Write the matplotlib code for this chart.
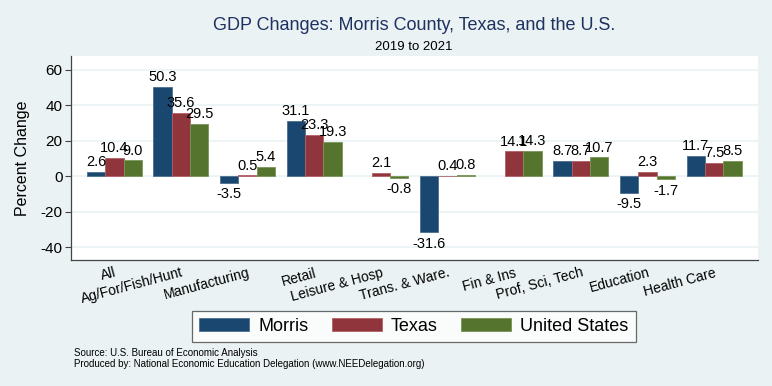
import numpy as np
import matplotlib
matplotlib.use("Agg")
from matplotlib import pyplot as plt

# Data (percent change in GDP, 2019 to 2021)
industries = ["All", "Ag/For/Fish/Hunt", "Manufacturing", "Retail", "Leisure & Hosp",
              "Trans. & Ware.", "Fin & Ins", "Prof, Sci, Tech", "Education", "Health Care"]
morris = [2.6, 50.3, -3.5, 31.1, np.nan, -31.6, np.nan, 8.7, -9.5, 11.7]
texas = [10.4, 35.6, 0.5, 23.3, 2.1, 0.4, 14.1, 8.7, 2.3, 7.5]
usa = [9.0, 29.5, 5.4, 19.3, -0.8, 0.8, 14.3, 10.7, -1.7, 8.5]
series_names = ["Morris", "Texas", "United States"]
yticks = [-40, -20, 0, 20, 40, 60]

# Stata s2color look
bg = "#eaf2f3"
colors = ["#1a476f", "#90353b", "#55752f"]
edges = ["#4a6f90", "#b06066", "#7a9458"]

plt.rcParams["font.family"] = ["Liberation Sans", "DejaVu Sans"]

fig = plt.figure(figsize=(7.72, 3.86), dpi=100, facecolor=bg)
ax = fig.add_axes([0.092, 0.326, 0.89, 0.529])
ax.set_facecolor("white")

x = np.arange(len(industries))
w = 0.275
for k, vals in enumerate([morris, texas, usa]):
    pos = x + (k - 1) * w
    vals = np.array(vals, dtype=float)
    ax.bar(pos, vals, width=w, color=colors[k], edgecolor=edges[k],
           linewidth=0.6, label=series_names[k], zorder=3)
    for xp, v in zip(pos, vals):
        if np.isnan(v):
            continue
        if v >= 0:
            ax.annotate(f"{v:.1f}", (xp, v), xytext=(0, 2), textcoords="offset points",
                        ha="center", va="bottom", fontsize=10.5, zorder=4)
        else:
            ax.annotate(f"{v:.1f}", (xp, v), xytext=(0, -3), textcoords="offset points",
                        ha="center", va="top", fontsize=10.5, zorder=4)

ax.set_xlim(-0.65, 9.66)
ax.set_ylim(-47.3, 67.9)
ax.set_yticks(yticks)
ax.set_yticklabels([str(t) for t in yticks], fontsize=11)
ax.yaxis.grid(True, color=bg, linewidth=1.2, zorder=0)
ax.set_axisbelow(True)
ax.set_ylabel("Percent Change", fontsize=11.5, labelpad=8)

ax.set_xticks(x)
ax.set_xticklabels(industries, rotation=15, ha="right", rotation_mode="anchor", fontsize=10)
ax.tick_params(axis="x", length=0, pad=4)
ax.tick_params(axis="y", length=4, width=0.8, color="#444444", pad=2)

for s in ["top", "right"]:
    ax.spines[s].set_visible(False)
for s in ["left", "bottom"]:
    ax.spines[s].set_color("#444444")
    ax.spines[s].set_linewidth(0.9)

# titles centred over the plot region
fig.text(0.536, 0.935, "GDP Changes: Morris County, Texas, and the U.S.",
         ha="center", va="center", fontsize=13, color="#1e3160")
fig.text(0.536, 0.878, "2019 to 2021", ha="center", va="center", fontsize=9.5)

leg = fig.legend(loc="center", bbox_to_anchor=(0.536, 0.155), ncol=3, fontsize=13,
                 frameon=True, fancybox=False, edgecolor="#444444",
                 handlelength=2.8, handleheight=0.78, columnspacing=1.27,
                 handletextpad=0.5, borderpad=0.38)
leg.get_frame().set_linewidth(0.9)
leg.get_frame().set_facecolor("white")

fig.text(0.096, 0.085, "Source: U.S. Bureau of Economic Analysis",
         fontsize=7, ha="left", va="center",
         family=["Liberation Sans Narrow", "Liberation Sans", "DejaVu Sans"])
fig.text(0.096, 0.057, "Produced by: National Economic Education Delegation (www.NEEDelegation.org)",
         fontsize=7, ha="left", va="center",
         family=["Liberation Sans Narrow", "Liberation Sans", "DejaVu Sans"])

fig.savefig("out.png", dpi=100, facecolor=bg)
